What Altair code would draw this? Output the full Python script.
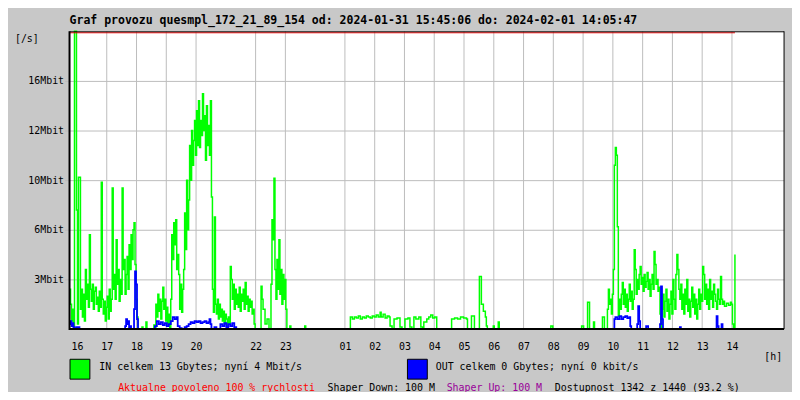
import altair as alt
import pandas as pd

# ---- data (minutes since 2024-01-31 15:45, level = chart units 0..300) ----
in_minute = [
    0, 2, 4, 6, 8, 10, 14, 16, 18, 22,
    24, 26, 28, 30, 32, 34, 36, 38, 40, 42,
    44, 46, 48, 50, 52, 54, 56, 58, 60, 62,
    64, 66, 68, 70, 72, 74, 76, 78, 80, 82,
    84, 86, 88, 90, 92, 94, 96, 98, 100, 102,
    104, 106, 108, 110, 112, 114, 116, 118, 120, 122,
    124, 126, 128, 130, 132, 134, 136, 138, 146, 148,
    154, 156, 170, 172, 174, 176, 178, 180, 182, 184,
    186, 188, 190, 192, 194, 196, 198, 200, 202, 204,
    206, 208, 210, 212, 214, 216, 218, 220, 222, 224,
    226, 228, 230, 232, 234, 236, 238, 240, 242, 244,
    246, 248, 250, 252, 254, 256, 258, 260, 262, 264,
    266, 268, 270, 272, 274, 276, 278, 280, 282, 284,
    286, 288, 290, 292, 294, 296, 298, 300, 302, 304,
    306, 308, 310, 312, 314, 316, 318, 320, 322, 324,
    326, 328, 330, 332, 334, 336, 338, 340, 342, 344,
    346, 348, 350, 352, 354, 356, 358, 360, 362, 364,
    366, 368, 370, 372, 374, 386, 388, 390, 394, 398,
    402, 406, 408, 410, 412, 414, 416, 418, 420, 422,
    424, 426, 428, 430, 432, 434, 436, 438, 444, 446,
    474, 476, 566, 570, 574, 578, 582, 586, 590, 594,
    598, 602, 606, 610, 614, 618, 622, 626, 628, 632,
    636, 640, 644, 646, 650, 654, 660, 666, 670, 676,
    682, 686, 690, 694, 698, 704, 708, 712, 714, 720,
    724, 728, 732, 736, 740, 770, 776, 782, 788, 794,
    800, 802, 810, 816, 826, 830, 834, 838, 840, 842,
    854, 856, 864, 866, 970, 974, 1032, 1036, 1044, 1048,
    1056, 1058, 1074, 1078, 1084, 1086, 1088, 1090, 1092, 1094,
    1096, 1098, 1100, 1102, 1104, 1106, 1108, 1110, 1112, 1114,
    1116, 1118, 1120, 1122, 1124, 1126, 1128, 1130, 1132, 1134,
    1136, 1138, 1140, 1142, 1144, 1146, 1148, 1150, 1152, 1154,
    1156, 1158, 1160, 1162, 1164, 1166, 1168, 1170, 1172, 1174,
    1176, 1178, 1180, 1182, 1184, 1186, 1188, 1190, 1192, 1194,
    1196, 1198, 1200, 1202, 1204, 1206, 1208, 1210, 1212, 1214,
    1216, 1218, 1220, 1222, 1224, 1226, 1228, 1230, 1232, 1234,
    1236, 1238, 1240, 1242, 1244, 1246, 1248, 1250, 1252, 1254,
    1256, 1258, 1260, 1262, 1264, 1266, 1268, 1270, 1272, 1274,
    1276, 1278, 1280, 1282, 1284, 1286, 1288, 1290, 1292, 1294,
    1296, 1298, 1300, 1302, 1304, 1306, 1308, 1310, 1312, 1314,
    1316, 1318, 1320, 1324, 1328, 1332, 1334, 1336, 1338, 1341,
]
in_level = [
    40, 25, 8, 20, 2, 300, 120, 5, 153, 20,
    40, 12, 35, 8, 60, 30, 45, 22, 95, 40,
    28, 45, 20, 38, 42, 25, 32, 18, 38, 22,
    148, 30, 15, 28, 8, 22, 33, 10, 40, 18,
    30, 142, 40, 55, 30, 90, 45, 60, 28, 50,
    35, 142, 60, 70, 35, 55, 73, 40, 85, 60,
    95, 70, 100, 107, 65, 30, 12, 0, 2, 0,
    7, 0, 4, 0, 25, 12, 35, 18, 30, 10,
    28, 42, 20, 30, 8, 22, 5, 15, 0, 30,
    95, 70, 107, 85, 110, 60, 75, 55, 20, 45,
    17, 40, 60, 117, 80, 150, 100, 130, 185, 150,
    200, 165, 190, 210, 175, 220, 185, 230, 183, 210,
    195, 237, 200, 215, 170, 225, 185, 205, 175, 230,
    133, 40, 17, 113, 25, 15, 30, 10, 25, 12,
    20, 8, 18, 5, 15, 10, 3, 12, 5, 63,
    50, 30, 45, 20, 40, 25, 35, 22, 42, 18,
    35, 28, 40, 20, 47, 25, 33, 18, 30, 22,
    28, 15, 20, 5, 0, 43, 30, 20, 5, 10,
    0, 45, 110, 90, 152, 60, 30, 70, 40, 90,
    35, 60, 25, 55, 30, 50, 20, 0, 3, 0,
    3, 0, 12, 10, 12, 11, 13, 10, 12, 11,
    13, 12, 11, 13, 12, 14, 12, 17, 12, 15,
    11, 13, 12, 3, 0, 10, 11, 2, 0, 10,
    11, 2, 0, 12, 10, 12, 2, 0, 7, 10,
    12, 14, 11, 12, 0, 10, 11, 10, 12, 11,
    10, 0, 13, 0, 53, 25, 18, 12, 3, 0,
    3, 0, 7, 0, 3, 0, 3, 0, 27, 0,
    7, 0, 12, 0, 20, 40, 25, 30, 15, 35,
    60, 165, 183, 175, 103, 13, 30, 20, 35, 47,
    25, 40, 22, 35, 18, 30, 45, 28, 38, 20,
    30, 80, 60, 35, 50, 40, 55, 63, 45, 52,
    38, 55, 42, 48, 57, 40, 50, 33, 45, 55,
    40, 78, 65, 45, 50, 38, 42, 15, 0, 20,
    35, 12, 28, 40, 18, 30, 10, 25, 38, 15,
    50, 30, 20, 55, 75, 60, 40, 30, 45, 20,
    35, 15, 40, 25, 50, 18, 30, 12, 28, 42,
    22, 35, 15, 30, 10, 25, 40, 20, 35, 28,
    63, 55, 30, 45, 25, 40, 20, 50, 30, 38,
    22, 45, 35, 28, 20, 40, 30, 25, 53, 30,
    25, 28, 23, 26, 24, 27, 25, 5, 0, 75,
]
out_minute = [
    0, 2, 4, 6, 8, 10, 14, 20, 112, 114,
    116, 118, 120, 122, 124, 130, 132, 134, 136, 138,
    172, 176, 180, 184, 188, 192, 196, 200, 204, 208,
    212, 216, 218, 222, 226, 232, 236, 240, 244, 248,
    252, 256, 260, 264, 268, 272, 276, 280, 282, 284,
    286, 292, 296, 304, 308, 312, 316, 320, 324, 328,
    332, 336, 1096, 1098, 1100, 1104, 1108, 1112, 1116, 1120,
    1124, 1128, 1130, 1132, 1144, 1146, 1148, 1150, 1162, 1166,
    1190, 1192, 1194, 1196, 1230, 1232, 1304, 1306, 1308, 1314,
    1316, 1341,
]
out_level = [
    5, 8, 3, 6, 2, 1, 2, 0, 3, 10,
    5, 8, 2, 3, 0, 20, 58, 45, 10, 0,
    3, 8, 5, 7, 4, 6, 3, 5, 8, 12,
    10, 12, 3, 1, 0, 2, 3, 5, 7, 6,
    8, 7, 8, 6, 7, 8, 6, 7, 10, 5,
    0, 2, 0, 5, 3, 6, 2, 5, 3, 6,
    2, 0, 0, 10, 12, 10, 13, 10, 12, 13,
    11, 12, 3, 0, 5, 23, 8, 0, 3, 0,
    5, 43, 10, 0, 2, 0, 13, 3, 0, 5,
    0, 0,
]

hour_labels = ["16", "17", "18", "19", "20", "22", "23", "01", "02", "03", "04",
               "05", "06", "07", "08", "09", "10", "11", "12", "13", "14"]
grid_hours = hour_labels[1:]
level_ticks = [50, 100, 150, 200, 250]
level_labels = ["3Mbit", "6Mbit", "10Mbit", "12Mbit", "16Mbit"]

title_text = "Graf provozu quesmpl_172_21_89_154 od: 2024-01-31 15:45:06 do: 2024-02-01 14:05:47"

FONT = "DejaVu Sans Mono"
GRID = "#bcbcbc"


def hour_to_minute(h):
    return ((int(h) - 16) % 24) * 60 + 15


tick_minutes = [hour_to_minute(h) for h in hour_labels]
grid_df = pd.DataFrame({"minute": [hour_to_minute(h) for h in grid_hours]})
in_df = pd.DataFrame({"minute": in_minute, "level": in_level})
out_df = pd.DataFrame({"minute": out_minute, "level": out_level})

hexpr = "(floor((945 + datum.value) / 60) % 24)"
x_label_expr = f"({hexpr} < 10 ? '0' : '') + {hexpr}"
y_label_expr = " : ".join(
    [f"datum.value == {v} ? '{l}'" for v, l in zip(level_ticks, level_labels)]
) + " : ''"

x_scale = alt.Scale(domain=[0, 1440], nice=False, zero=False)
y_scale = alt.Scale(domain=[0, 300], nice=False, zero=True)

x_axis = alt.Axis(
    title=None, values=tick_minutes, labelExpr=x_label_expr, domain=False, ticks=False,
    grid=False, labelPadding=13, labelFont=FONT, labelFontSize=10, labelColor="black",
    labelFlush=False, labelOverlap=False,
)
y_axis = alt.Axis(
    title=None, values=level_ticks, labelExpr=y_label_expr, domain=False, ticks=True,
    tickSize=5, tickColor=GRID, grid=True, gridColor=GRID, gridWidth=1, labelPadding=1,
    labelFont=FONT, labelFontSize=10, labelColor="black", labelFlush=False,
    labelOverlap=False,
)

X_IN = alt.X("minute:Q", scale=x_scale, axis=x_axis)
Y_IN = alt.Y("level:Q", scale=y_scale, axis=y_axis)

one = pd.DataFrame({"a": [0]})

vgrid = alt.Chart(grid_df).mark_rule(color=GRID, strokeWidth=1).encode(
    x=X_IN, y=alt.value(0), y2=alt.value(300),
)

green = alt.Chart(in_df).mark_line(
    color="#00ff00", strokeWidth=1.5, interpolate="step-after"
).encode(x=X_IN, y=Y_IN)

blue = alt.Chart(out_df).mark_line(
    color="#0000ff", strokeWidth=1.8, interpolate="step-after"
).encode(x=X_IN, y=Y_IN)

red_top = alt.Chart(
    pd.DataFrame({"minute": [in_minute[0]], "e": [in_minute[-1]]})
).mark_rule(color="#ff0000", strokeWidth=1).encode(
    x=X_IN, x2="e:Q", y=alt.value(1.5)
)


def frame_rule(x, x2, y, y2, w):
    return alt.Chart(one).mark_rule(color="black", strokeWidth=w).encode(
        x=alt.value(x), x2=alt.value(x2), y=alt.value(y), y2=alt.value(y2)
    )


frames = [
    frame_rule(0, 720, 0.5, 0.5, 1),     # top
    frame_rule(720, 720, 0, 300, 1),     # right
    frame_rule(0, 0, 0, 301, 2),         # left
    frame_rule(0, 720, 300, 300, 2),     # bottom
]


def note(text, x, y, color="black", bold=False, size=10):
    return alt.Chart(pd.DataFrame({"t": [text]})).mark_text(
        align="left", baseline="middle", font=FONT, fontSize=size,
        fontWeight="bold" if bold else "normal", color=color,
    ).encode(x=alt.value(x), y=alt.value(y), text="t:N")


def swatch(color, x):
    return alt.Chart(one).mark_rect(color=color, stroke="black", strokeWidth=1).encode(
        x=alt.value(x), x2=alt.value(x + 20), y=alt.value(330.5), y2=alt.value(350.5)
    )


texts = [
    note(title_text, 0, -10, bold=True, size=11.6),
    note("[/s]", -55, 8),
    note("[h]", 700, 328),
    note("IN celkem 13 Gbytes; nyní 4 Mbit/s", 30, 338.5),
    note("OUT celkem 0 Gbytes; nyní 0 kbit/s", 369, 338.5),
    note("Aktualne povoleno 100 % rychlosti", 49, 359),
    note("Shaper Down: 100 M", 260, 359),
    note("Shaper Up: 100 M", 380, 359, color="#990099"),
    note("Dostupnost 1342 z 1440 (93.2 %)", 489, 359),
]
texts[5] = note("Aktualne povoleno 100 % rychlosti", 49, 359, color="#ff0000")

chart = alt.layer(
    vgrid, green, blue, red_top, *frames, swatch("#00ff00", 0.5), swatch("#0000ff", 340.5), *texts
).properties(
    width=720, height=300, autosize="none",
    padding={"left": 62, "top": 22, "right": 8, "bottom": 62},
    background="#c8c8c8",
).configure_view(fill="white", strokeWidth=0)

chart.save("out.html", embed_options={"renderer": "svg", "actions": False})
